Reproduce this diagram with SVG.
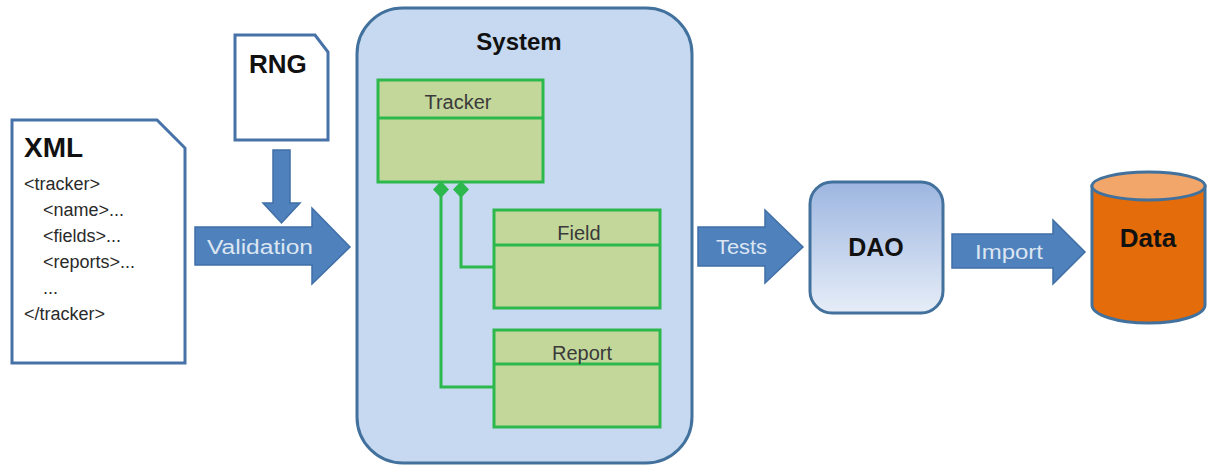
<svg xmlns="http://www.w3.org/2000/svg" width="1209" height="466" viewBox="0 0 1209 466">
<defs>
<style>
.doc{fill:#ffffff;stroke:#4672a8;stroke-width:3;stroke-linejoin:miter}
.arrow{fill:#4f81bd;stroke:#3f6fa6;stroke-width:1.5}
.alabel{font-family:"Liberation Sans",Arial,sans-serif;font-size:20px;fill:#dce6f2}
.bold{font-family:"Liberation Sans",Arial,sans-serif;font-weight:bold;fill:#111111}
.code{font-family:"Liberation Sans",Arial,sans-serif;font-size:18px;fill:#2a2a2a}
.cls{fill:#c4d79b;stroke:#2db84d;stroke-width:3}
.cname{font-family:"Liberation Sans",Arial,sans-serif;font-size:20px;fill:#3a3a3a;text-anchor:middle}
.link{fill:none;stroke:#2db84d;stroke-width:3}
.dia{fill:#2db84d;stroke:none}
</style>
<linearGradient id="daoGrad" x1="0" y1="0" x2="0" y2="1">
<stop offset="0" stop-color="#9db6e0"/>
<stop offset="1" stop-color="#e6edf8"/>
</linearGradient>
</defs>
<rect width="1209" height="466" fill="#ffffff"/>

<g id="xml">
<path class="doc" d="M12,120 H157 L185,148 V363 H12 Z"/>
<text class="bold" x="24" y="157" font-size="28">XML</text>
<text class="code" x="24" y="190">&lt;tracker&gt;</text>
<text class="code" x="43" y="216">&lt;name&gt;...</text>
<text class="code" x="43" y="242">&lt;fields&gt;...</text>
<text class="code" x="43" y="268">&lt;reports&gt;...</text>
<text class="code" x="43" y="294">...</text>
<text class="code" x="24" y="320">&lt;/tracker&gt;</text>
</g>

<g id="rng">
<path class="doc" d="M235,35 H315 L328,52 V140 H235 Z"/>
<text class="bold" x="249" y="73" font-size="26">RNG</text>
</g>

<g id="system">
<rect x="357" y="8" width="335" height="455" rx="46" ry="46" fill="#c6d9f0" stroke="#41719c" stroke-width="3"/>
<text class="bold" x="519" y="50" font-size="24" text-anchor="middle">System</text>
</g>

<g id="tracker">
<rect class="cls" x="378" y="80" width="165" height="102"/>
<line x1="378" y1="118" x2="543" y2="118" stroke="#2db84d" stroke-width="3"/>
<text class="cname" x="458" y="109">Tracker</text>
</g>

<g id="field">
<rect class="cls" x="494" y="210" width="166" height="98"/>
<line x1="494" y1="245" x2="660" y2="245" stroke="#2db84d" stroke-width="3"/>
<text class="cname" x="579" y="240" font-size="21">Field</text>
</g>

<g id="report">
<rect class="cls" x="494" y="330" width="166" height="97"/>
<line x1="494" y1="364" x2="660" y2="364" stroke="#2db84d" stroke-width="3"/>
<text class="cname" x="582" y="360" font-size="21">Report</text>
</g>

<g id="dao">
<rect x="810" y="182" width="133" height="131" rx="22" ry="22" fill="url(#daoGrad)" stroke="#41719c" stroke-width="3"/>
<text class="bold" x="876" y="256" font-size="25" text-anchor="middle">DAO</text>
</g>

<g id="data">
<path d="M1092,186 V305 A56.5,18 0 0 0 1205,305 V186 Z" fill="#e46c0a" stroke="#41719c" stroke-width="3"/>
<ellipse cx="1148.5" cy="186" rx="56.5" ry="14" fill="#f2a66a" stroke="#41719c" stroke-width="3"/>
<text class="bold" x="1148" y="247" font-size="26" text-anchor="middle">Data</text>
</g>

<g id="connectors">
<path class="arrow" d="M273,150 H290 V203 H300 L281.5,223 L263,203 H273 Z"/>
<path class="arrow" d="M195,227 H312 V208 L350,247 L312,284 V265 H195 Z"/>
<text class="alabel" x="207" y="254" textLength="106" lengthAdjust="spacingAndGlyphs">Validation</text>
<path class="arrow" d="M698,227 H765 V210 L803,247 L765,283 V266 H698 Z"/>
<text class="alabel" x="716" y="254" textLength="51" lengthAdjust="spacingAndGlyphs">Tests</text>
<path class="arrow" d="M952,234 H1053 V220 L1085,252 L1053,284 V268 H952 Z"/>
<text class="alabel" x="975" y="259" textLength="68" lengthAdjust="spacingAndGlyphs">Import</text>
<path class="link" d="M441,196 V387 H494"/>
<path class="link" d="M461,196 V267 H494"/>
<path class="dia" d="M441,181 L449,189.5 L441,198 L433,189.5 Z"/>
<path class="dia" d="M461,181 L469,189.5 L461,198 L453,189.5 Z"/>
</g>
</svg>
